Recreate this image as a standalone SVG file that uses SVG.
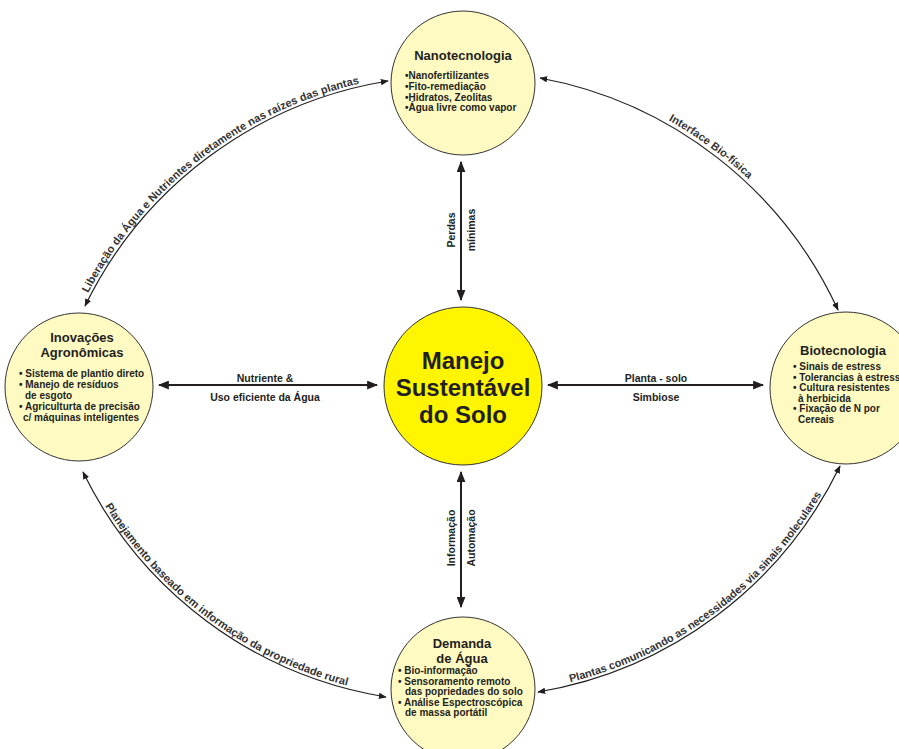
<svg xmlns="http://www.w3.org/2000/svg" width="899" height="749" viewBox="0 0 899 749">
<defs>
<style>
text{font-family:"Liberation Sans",Arial,sans-serif;font-weight:bold;fill:#231f20}
.node{fill:#fffac2;stroke:#333;stroke-width:1}
.core{fill:#fff500;stroke:#333;stroke-width:1}
.title{font-size:13px;text-anchor:middle}
.item{font-size:10px}
.lbl{font-size:10.5px;text-anchor:middle}
.arclbl{font-size:11px;fill:#333}
.arc{fill:none;stroke:#231f20;stroke-width:1.2;marker-start:url(#sh);marker-end:url(#sh)}
.bar{fill:none;stroke:#231f20;stroke-width:2;marker-start:url(#bh);marker-end:url(#bh)}
</style>
<marker id="sh" viewBox="0 0 10 8" refX="9" refY="4" markerWidth="8" markerHeight="6.4" markerUnits="userSpaceOnUse" orient="auto-start-reverse"><path d="M0,0 L10,4 L0,8 z" fill="#231f20"/></marker>
<marker id="bh" viewBox="0 0 10 8" refX="9" refY="4" markerWidth="11" markerHeight="9" markerUnits="userSpaceOnUse" orient="auto-start-reverse"><path d="M0,0 L10,4 L0,8 z" fill="#231f20"/></marker>
<path id="p1" d="M 85 306 A 410 410 0 0 1 388 81"/>
<path id="p2" d="M 540 78 A 410 410 0 0 1 838 310"/>
<path id="p3" d="M 83 472 A 410 410 0 0 0 386 697"/>
<path id="p4" d="M 538 692 A 410 410 0 0 0 840 466"/>
</defs>
<rect width="899" height="749" fill="#fff"/>

<g id="connectors">
<use href="#p1" class="arc"/>
<use href="#p2" class="arc"/>
<use href="#p3" class="arc"/>
<use href="#p4" class="arc"/>
<line class="bar" x1="461" y1="162" x2="461" y2="300"/>
<line class="bar" x1="461" y1="472" x2="461" y2="607"/>
<line class="bar" x1="159" y1="385" x2="377" y2="385"/>
<line class="bar" x1="548" y1="385" x2="763" y2="385"/>
<text class="arclbl" dy="-3"><textPath href="#p1" startOffset="48%" text-anchor="middle">Liberação da Água e Nutrientes diretamente nas raízes das plantas</textPath></text>
<text class="arclbl" dy="-4"><textPath href="#p2" startOffset="47%" text-anchor="middle">Interface Bio-física</textPath></text>
<text class="arclbl" dy="-3"><textPath href="#p3" startOffset="50%" text-anchor="middle">Planejamento baseado em informação da propriedade rural</textPath></text>
<text class="arclbl" dy="-3"><textPath href="#p4" startOffset="50%" text-anchor="middle">Plantas comunicando as necessidades via sinais moleculares</textPath></text>
<text class="lbl" transform="translate(455,230) rotate(-90)">Perdas</text>
<text class="lbl" transform="translate(475,230) rotate(-90)">mínimas</text>
<text class="lbl" transform="translate(455,538) rotate(-90)">Informação</text>
<text class="lbl" transform="translate(475,538) rotate(-90)">Automação</text>
<text class="lbl" x="265" y="382">Nutriente &amp;</text>
<text class="lbl" x="265" y="401">Uso eficiente da Água</text>
<text class="lbl" x="656" y="382">Planta - solo</text>
<text class="lbl" x="656" y="401">Simbiose</text>
</g>

<g id="nanotecnologia">
<circle class="node" cx="463" cy="83" r="72"/>
<text class="title" x="463" y="60">Nanotecnologia</text>
<text class="item" x="405" y="79">•Nanofertilizantes</text>
<text class="item" x="405" y="90">•Fito-remediação</text>
<text class="item" x="405" y="100.5">•Hidratos, Zeolitas</text>
<text class="item" x="405" y="111">•Água livre como vapor</text>
</g>

<g id="inovacoes">
<circle class="node" cx="79" cy="387" r="74"/>
<text class="title" x="82" y="342">Inovações</text>
<text class="title" x="82" y="357">Agronômicas</text>
<text class="item" x="19" y="377">• Sistema de plantio direto</text>
<text class="item" x="19" y="388">• Manejo de resíduos</text>
<text class="item" x="25" y="399">de esgoto</text>
<text class="item" x="19" y="410">• Agriculturta de precisão</text>
<text class="item" x="23" y="421">c/ máquinas inteligentes</text>
</g>

<g id="manejo">
<circle class="core" cx="463" cy="386" r="79"/>
<text class="title" style="font-size:24px" x="463" y="369">Manejo</text>
<text class="title" style="font-size:24px" x="463" y="396">Sustentável</text>
<text class="title" style="font-size:24px" x="463" y="423">do Solo</text>
</g>

<g id="biotecnologia">
<circle class="node" cx="846" cy="388" r="76"/>
<text class="title" x="843" y="355">Biotecnologia</text>
<text class="item" x="793" y="370">• Sinais de estress</text>
<text class="item" x="793" y="380.5">• Tolerancias à estress</text>
<text class="item" x="793" y="391">• Cultura resistentes</text>
<text class="item" x="798" y="401.5">à herbicida</text>
<text class="item" x="793" y="412">• Fixação de N por</text>
<text class="item" x="798" y="422.5">Cereais</text>
</g>

<g id="demanda">
<circle class="node" cx="463" cy="689" r="72"/>
<text class="title" x="462" y="648">Demanda</text>
<text class="title" x="462" y="663">de Água</text>
<text class="item" x="398" y="674">• Bio-informação</text>
<text class="item" x="398" y="684.5">• Sensoramento remoto</text>
<text class="item" x="405" y="695">das popriedades do solo</text>
<text class="item" x="398" y="705.5">• Análise Espectroscópica</text>
<text class="item" x="405" y="716">de massa portátil</text>
</g>
</svg>
